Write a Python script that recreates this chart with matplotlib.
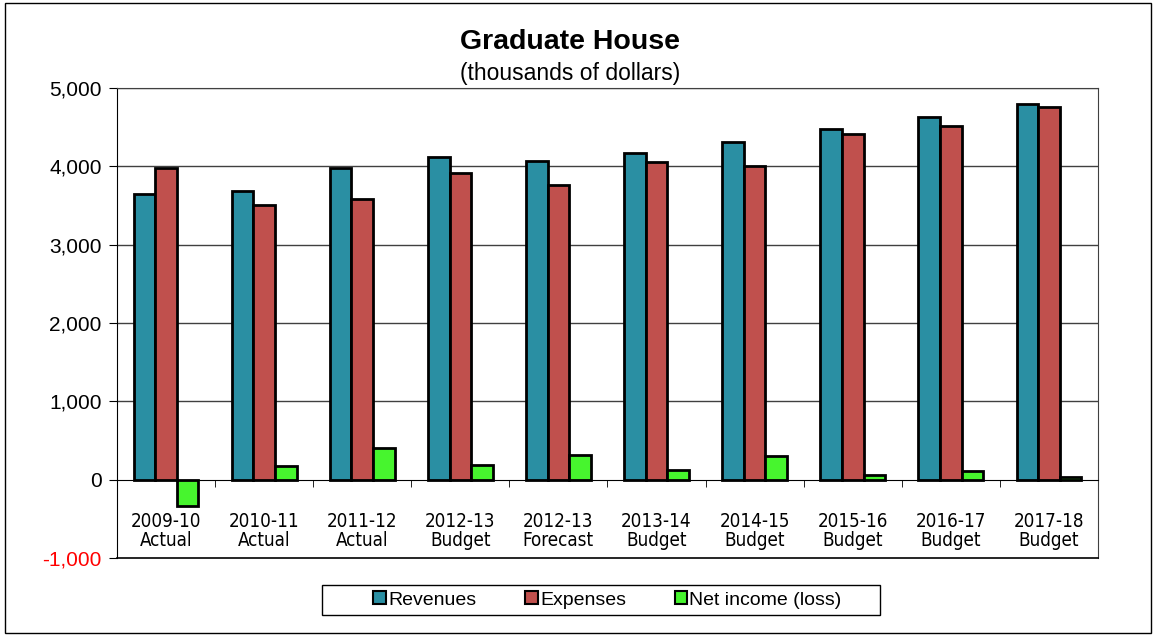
import numpy as np
import matplotlib
matplotlib.use("Agg")
from matplotlib import pyplot as plt
from matplotlib.patches import Rectangle
from matplotlib.ticker import FuncFormatter
from matplotlib import font_manager

plt.rcParams['font.family'] = ['Liberation Sans', 'DejaVu Sans']

categories = ["2009-10\nActual", "2010-11\nActual", "2011-12\nActual",
              "2012-13\nBudget", "2012-13\nForecast", "2013-14\nBudget",
              "2014-15\nBudget", "2015-16\nBudget", "2016-17\nBudget",
              "2017-18\nBudget"]
revenues = [3650, 3690, 3985, 4115, 4070, 4175, 4315, 4475, 4635, 4795]
expenses = [3975, 3510, 3580, 3920, 3760, 4050, 4010, 4415, 4520, 4755]
net_income = [-330, 170, 410, 190, 310, 120, 305, 60, 115, 40]

series = [("Revenues", revenues, "#2A8FA3"),
          ("Expenses", expenses, "#C0504D"),
          ("Net income (loss)", net_income, "#47F52E")]

# narrow font for the category labels if one is around
names = {f.name for f in font_manager.fontManager.ttflist}
narrow = [n for n in ["Liberation Sans Narrow", "Arial Narrow"] if n in names]
if narrow:
    xfont = dict(family=narrow[0], fontsize=15)
else:
    xfont = dict(family="DejaVu Sans", stretch="condensed", fontsize=13.5)

fig = plt.figure(figsize=(11.56, 6.36), dpi=100)
ax = fig.add_axes([0.1012, 0.1226, 0.8486, 0.739])

x = np.arange(len(categories))
width = 0.22
for i, (name, vals, color) in enumerate(series):
    ax.bar(x + (i - 1) * width, vals, width, color=color, edgecolor="black",
           linewidth=2, label=name, zorder=3)

ax.set_xlim(-0.5, len(categories) - 0.5)
ax.set_ylim(-1000, 5000)
ax.set_yticks(range(-1000, 5001, 1000))
ax.yaxis.set_major_formatter(FuncFormatter(lambda v, p: f"{int(v):,}"))
ax.tick_params(axis="y", labelsize=15, length=6, direction="out", pad=5)
for lbl in ax.get_yticklabels():
    if lbl.get_text().startswith("-"):
        lbl.set_color("red")

# gridlines (not at the zero line)
for v in range(1000, 5001, 1000):
    ax.axhline(v, color="#404040", linewidth=1, zorder=1)

# x axis sits on the zero line
ax.spines["bottom"].set_position(("data", 0))
ax.spines["bottom"].set_zorder(4)
ax.set_xticks(x)
ax.set_xticklabels(categories, linespacing=1.05, **xfont)
ax.set_xticks(np.arange(len(categories) + 1) - 0.5, minor=True)
ax.tick_params(axis="x", which="major", length=0, pad=23)
ax.tick_params(axis="x", which="minor", length=5, direction="out")
ax.axhline(-1000, color="black", linewidth=1.2, clip_on=False, zorder=5)
ax.spines["left"].set_color("black")
ax.spines["top"].set_color("#404040")
ax.spines["right"].set_color("#404040")

fig.text(0.4935, 0.934, "Graduate House", ha="center", va="center",
         fontsize=20.5, fontweight="bold")
fig.text(0.4935, 0.884, "(thousands of dollars)", ha="center", va="center",
         fontsize=16.5)

# legend entries without frame, box drawn separately (wider than the entries)
leg = fig.legend(loc="center", bbox_to_anchor=(0.5255, 0.0566), ncol=3,
                 fontsize=14, frameon=False,
                 handlelength=0.65, handleheight=0.65, handletextpad=0.12,
                 columnspacing=2.5, borderpad=0.3)
for h in leg.legend_handles:
    h.set_linewidth(1.5)
fig.patches.append(Rectangle((322 / 1156, 1 - 615 / 636), 558 / 1156, 30 / 636,
                             transform=fig.transFigure, fill=False,
                             edgecolor="black", linewidth=1))

fig.patches.append(Rectangle((0.004, 0.005), 0.992, 0.99, transform=fig.transFigure,
                             fill=False, edgecolor="black", linewidth=1))

fig.savefig("out.png", dpi=100)
